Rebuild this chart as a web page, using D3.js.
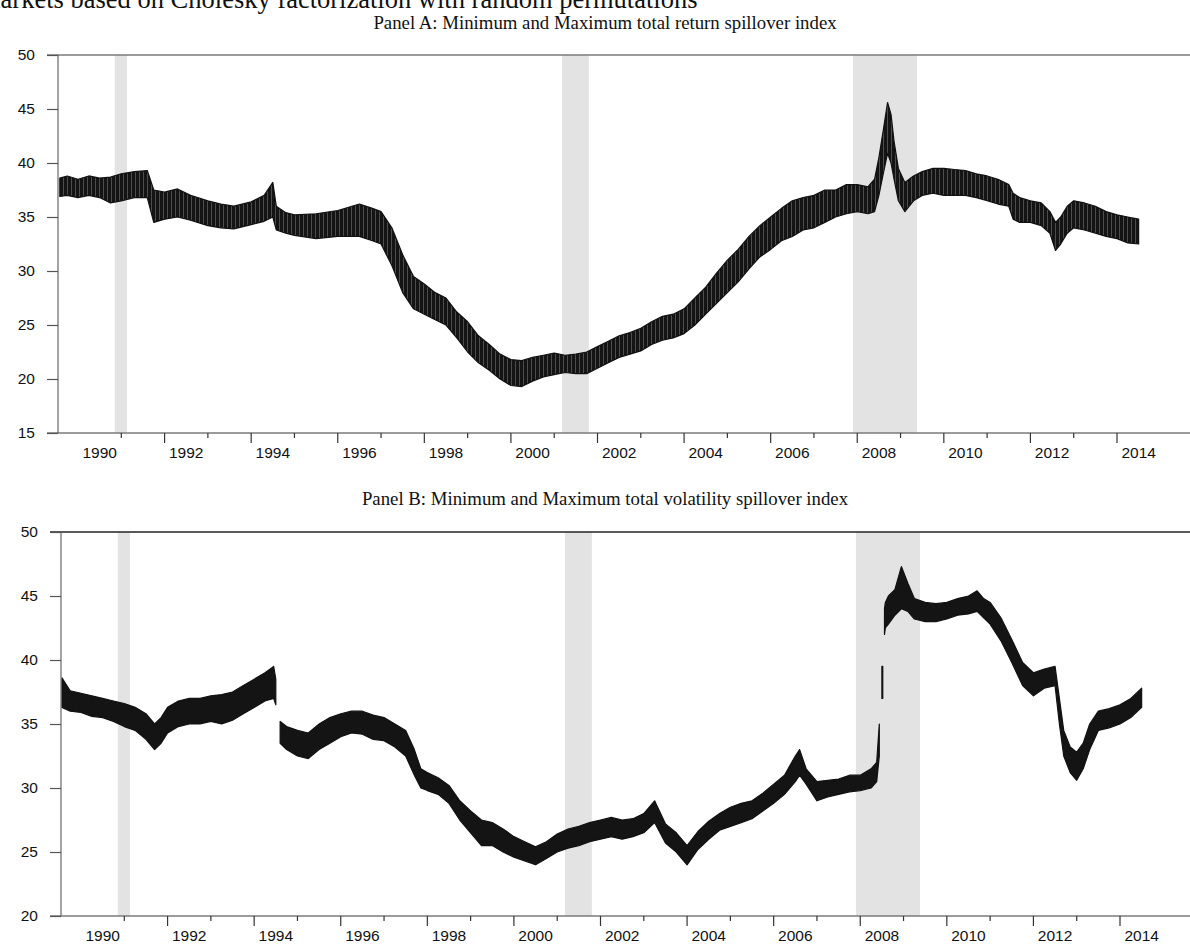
<!DOCTYPE html>
<html>
<head>
<meta charset="utf-8">
<script src="https://cdn.jsdelivr.net/npm/d3@7"></script>
<style>
  body { margin: 0; background: #fff; }
  svg { display: block; }
</style>
</head>
<body>
<svg id="chart"></svg>
<script>
// ---- data ----
const recessions = [[1990.85, 1991.13], [2001.18, 2001.8], [2007.9, 2009.38]];
const yearTicks = d3.range(1991, 2015);
const yearLabels = d3.range(1990, 2015, 2);

const ticksA = [15, 20, 25, 30, 35, 40, 45, 50];
const ticksB = [20, 25, 30, 35, 40, 45, 50];

// Panel A: return spillover (min / max)
const datesA = [1989.58, 1989.75, 1990.0, 1990.25, 1990.5, 1990.75, 1991.0, 1991.3, 1991.6, 1991.75,
  1992.0, 1992.3, 1992.6, 1993.0, 1993.3, 1993.6, 1994.0, 1994.3, 1994.5, 1994.58,
  1994.8, 1995.0, 1995.5, 1996.0, 1996.5, 1996.8, 1997.0, 1997.25, 1997.5, 1997.75,
  1998.0, 1998.25, 1998.5, 1998.75, 1999.0, 1999.25, 1999.5, 1999.75, 2000.0, 2000.25,
  2000.5, 2000.75, 2001.0, 2001.25, 2001.5, 2001.75, 2002.0, 2002.25, 2002.5, 2002.75,
  2003.0, 2003.25, 2003.5, 2003.75, 2004.0, 2004.25, 2004.5, 2004.75, 2005.0, 2005.25,
  2005.5, 2005.75, 2006.0, 2006.25, 2006.5, 2006.75, 2007.0, 2007.25, 2007.5, 2007.75,
  2008.0, 2008.25, 2008.4, 2008.5, 2008.6, 2008.7, 2008.78, 2008.85, 2008.95, 2009.1,
  2009.3, 2009.5, 2009.75, 2010.0, 2010.25, 2010.5, 2010.75, 2011.0, 2011.25, 2011.5,
  2011.6, 2011.75, 2012.0, 2012.25, 2012.45, 2012.58, 2012.7, 2012.85, 2013.0, 2013.25,
  2013.5, 2013.75, 2014.0, 2014.25, 2014.5];
const minA = [36.9, 37.0, 36.8, 37.0, 36.8, 36.3, 36.5, 36.8, 36.8, 34.5,
  34.8, 35.0, 34.7, 34.2, 34.0, 33.9, 34.3, 34.6, 35.0, 33.8,
  33.5, 33.3, 33.0, 33.2, 33.2, 32.8, 32.5, 30.5, 28.0, 26.5,
  26.0, 25.5, 25.0, 23.8, 22.5, 21.5, 20.8, 20.0, 19.4, 19.3,
  19.8, 20.2, 20.4, 20.6, 20.5, 20.5, 21.0, 21.5, 22.0, 22.3,
  22.6, 23.2, 23.6, 23.8, 24.2, 25.0, 26.0, 27.0, 28.0, 29.0,
  30.2, 31.3, 32.0, 32.8, 33.2, 33.8, 34.0, 34.5, 35.0, 35.3,
  35.5, 35.3, 35.5, 37.0, 39.0, 40.9, 40.0, 38.5, 36.5, 35.5,
  36.5, 37.0, 37.2, 37.0, 37.0, 37.0, 36.8, 36.5, 36.2, 36.0,
  34.8, 34.5, 34.5, 34.2, 33.5, 31.9, 32.5, 33.5, 34.0, 33.8,
  33.5, 33.2, 33.0, 32.6, 32.5];
const maxA = [38.6, 38.8, 38.5, 38.8, 38.6, 38.7, 39.0, 39.2, 39.3, 37.5,
  37.3, 37.6, 37.0, 36.5, 36.2, 36.0, 36.4, 37.0, 38.2, 36.0,
  35.4, 35.2, 35.3, 35.6, 36.2, 35.8, 35.5, 34.0, 31.5, 29.5,
  28.8, 28.0, 27.5, 26.2, 25.3, 24.0, 23.2, 22.3, 21.8, 21.7,
  22.0, 22.2, 22.4, 22.2, 22.3, 22.5, 23.0, 23.5, 24.0, 24.3,
  24.7, 25.3, 25.8, 26.0, 26.5, 27.5, 28.5, 29.8, 31.0, 32.0,
  33.2, 34.2, 35.0, 35.8, 36.5, 36.8, 37.0, 37.5, 37.5, 38.0,
  38.0, 37.8, 38.5, 40.5, 43.0, 45.6, 44.5, 42.0, 39.5, 38.2,
  38.8, 39.2, 39.5, 39.5, 39.4, 39.3, 39.0, 38.8, 38.5, 38.0,
  37.2, 36.8, 36.5, 36.3, 35.5, 34.5, 35.0, 36.0, 36.5, 36.3,
  36.0, 35.5, 35.2, 35.0, 34.8];

// Panel B: volatility spillover (min / max), null = break in the series
const datesB = [1989.56, 1989.75, 1990.0, 1990.25, 1990.5, 1990.75, 1991.0, 1991.25, 1991.5, 1991.7,
  1991.85, 1992.0, 1992.25, 1992.5, 1992.75, 1993.0, 1993.25, 1993.5, 1993.75, 1994.0,
  1994.25, 1994.45, 1994.5, 1994.55, 1994.6, 1994.75, 1995.0, 1995.25, 1995.5, 1995.75,
  1996.0, 1996.25, 1996.5, 1996.75, 1997.0, 1997.25, 1997.5, 1997.7, 1997.85, 1998.0,
  1998.25, 1998.5, 1998.75, 1999.0, 1999.25, 1999.5, 1999.75, 2000.0, 2000.25, 2000.5,
  2000.75, 2001.0, 2001.25, 2001.5, 2001.75, 2002.0, 2002.25, 2002.5, 2002.75, 2003.0,
  2003.25, 2003.5, 2003.75, 2004.0, 2004.25, 2004.5, 2004.75, 2005.0, 2005.25, 2005.5,
  2005.75, 2006.0, 2006.25, 2006.5, 2006.6, 2006.75, 2007.0, 2007.25, 2007.5, 2007.75,
  2008.0, 2008.25, 2008.38, 2008.44, 2008.46, 2008.5, 2008.52, 2008.54, 2008.56, 2008.58,
  2008.65, 2008.8, 2008.95, 2009.1,
  2009.25, 2009.5, 2009.75, 2010.0, 2010.25, 2010.5, 2010.7, 2010.85, 2011.0, 2011.25,
  2011.5, 2011.75, 2012.0, 2012.25, 2012.5, 2012.6, 2012.7, 2012.85, 2013.0, 2013.15,
  2013.3, 2013.5, 2013.75, 2014.0, 2014.25, 2014.5];
const minB = [36.3, 36.0, 35.9, 35.6, 35.5, 35.2, 34.8, 34.5, 33.8, 33.0,
  33.5, 34.3, 34.8, 35.0, 35.0, 35.2, 35.0, 35.3, 35.8, 36.3,
  36.8, 37.0, 36.5, null, 33.5, 33.0, 32.5, 32.3, 33.0, 33.5,
  34.0, 34.3, 34.2, 33.8, 33.7, 33.2, 32.5, 31.0, 30.0, 29.8,
  29.5, 28.8, 27.5, 26.5, 25.5, 25.5, 25.0, 24.6, 24.3, 24.0,
  24.5, 25.0, 25.3, 25.5, 25.8, 26.0, 26.2, 26.0, 26.2, 26.5,
  27.3, 25.7, 25.0, 24.0, 25.2, 26.0, 26.7, 27.0, 27.3, 27.6,
  28.2, 28.8, 29.5, 30.5, 31.0, 30.3, 29.0, 29.3, 29.5, 29.7,
  29.8, 30.0, 30.5, 32.5, null, 37.0, 37.0, null, 42.0, 42.5,
  42.8, 43.5, 44.0, 43.8,
  43.2, 43.0, 43.0, 43.2, 43.5, 43.6, 43.8, 43.3, 42.8, 41.5,
  39.8, 38.0, 37.2, 37.8, 38.0, 35.0, 32.5, 31.2, 30.6, 31.5,
  33.0, 34.5, 34.7, 35.0, 35.5, 36.3];
const maxB = [38.6, 37.6, 37.4, 37.2, 37.0, 36.8, 36.6, 36.3, 35.8, 35.0,
  35.5, 36.3, 36.8, 37.0, 37.0, 37.2, 37.3, 37.5, 38.0, 38.5,
  39.0, 39.5, 38.5, null, 35.2, 34.8, 34.5, 34.3, 35.0, 35.5,
  35.8, 36.0, 36.0, 35.7, 35.5, 35.0, 34.5, 33.0, 31.5, 31.2,
  30.8, 30.2, 29.0, 28.2, 27.5, 27.3, 26.8, 26.2, 25.8, 25.4,
  25.8, 26.4, 26.8, 27.0, 27.3, 27.5, 27.7, 27.5, 27.6, 28.0,
  29.0, 27.2, 26.5, 25.5, 26.6, 27.4, 28.0, 28.5, 28.8, 29.0,
  29.6, 30.3, 31.0, 32.5, 33.0, 31.5, 30.5, 30.6, 30.7, 31.0,
  31.0, 31.5, 32.0, 35.0, null, 39.5, 39.5, null, 44.0, 44.5,
  45.0, 45.5, 47.3, 46.0,
  44.8, 44.5, 44.4, 44.5, 44.8, 45.0, 45.4, 44.8, 44.5, 43.3,
  41.6, 39.8, 39.0, 39.3, 39.5, 37.0, 34.5, 33.2, 32.8, 33.5,
  35.0, 36.0, 36.2, 36.5, 37.0, 37.8];

const topTitle = "markets based on Cholesky factorization with random permutations";
const titleA = "Panel A: Minimum and Maximum total return spillover index";
const titleB = "Panel B: Minimum and Maximum total volatility spillover index";

// ---- drawing ----
const width = 1190, height = 944;
const svg = d3.select("#chart").attr("width", width).attr("height", height);

const defs = svg.append("defs");
const pat = defs.append("pattern")
    .attr("id", "stripes")
    .attr("patternUnits", "userSpaceOnUse")
    .attr("width", 4).attr("height", 10);
pat.append("rect").attr("width", 4).attr("height", 10).attr("fill", "#141414");
pat.append("rect").attr("x", 3).attr("width", 1).attr("height", 10).attr("fill", "#4d4d4d");

svg.append("text")
    .attr("x", -20).attr("y", 8)
    .attr("font-family", "Liberation Serif, Times New Roman, serif")
    .attr("font-size", 26.5)
    .attr("fill", "#111")
    .text(topTitle);

function drawPanel(p) {
    const g = svg.append("g");

    const x = d3.scaleLinear().domain([1990, 2014]).range(p.xRange);
    const y = d3.scaleLinear().domain(p.yDomain).range([p.bottom, p.top]);

    const rows = p.dates.map((d, i) => ({ t: d, lo: p.lo[i], hi: p.hi[i] }));

    // shaded periods
    g.selectAll(".shade")
        .data(recessions)
        .join("rect")
        .attr("class", "shade")
        .attr("x", d => x(d[0]))
        .attr("y", p.top)
        .attr("width", d => x(d[1]) - x(d[0]))
        .attr("height", p.bottom - p.top)
        .attr("fill", "#e3e3e3");

    // min-max band
    const area = d3.area()
        .defined(d => d.lo != null)
        .x(d => x(d.t))
        .y0(d => y(d.lo))
        .y1(d => y(d.hi));
    g.append("path")
        .datum(rows)
        .attr("d", area)
        .attr("fill", p.fill)
        .attr("stroke", "#111")
        .attr("stroke-width", 1.2)
        .attr("stroke-linejoin", "round");

    // frame lines
    g.append("line")
        .attr("x1", p.yAxisX - 11).attr("x2", width)
        .attr("y1", p.top).attr("y2", p.top)
        .attr("stroke", p.topColor).attr("stroke-width", 1.5);
    g.append("line")
        .attr("x1", p.yAxisX - 11).attr("x2", width)
        .attr("y1", p.bottom).attr("y2", p.bottom)
        .attr("stroke", "#7a7a7a").attr("stroke-width", 1.5);
    g.append("line")
        .attr("x1", p.yAxisX).attr("x2", p.yAxisX)
        .attr("y1", p.top).attr("y2", p.bottom)
        .attr("stroke", "#666").attr("stroke-width", 1.2);

    // y axis
    const yAxis = d3.axisLeft(y).tickValues(p.yTicks).tickSize(11).tickPadding(12)
        .tickFormat(d3.format("d"));
    const ya = g.append("g")
        .attr("transform", `translate(${p.yAxisX},0)`)
        .call(yAxis);
    ya.select(".domain").remove();
    ya.selectAll(".tick line").attr("stroke", "#555").attr("stroke-width", 1.2);
    ya.selectAll(".tick text")
        .attr("font-family", "Liberation Sans, Arial, sans-serif")
        .attr("font-size", 15.5)
        .attr("fill", "#111");

    // x axis: year ticks, long on even years
    g.selectAll(".xtick")
        .data(yearTicks)
        .join("line")
        .attr("class", "xtick")
        .attr("x1", d => x(d)).attr("x2", d => x(d))
        .attr("y1", p.bottom)
        .attr("y2", d => p.bottom + (d % 2 === 0 ? 10 : 5))
        .attr("stroke", "#333").attr("stroke-width", 1.2);

    g.selectAll(".xlab")
        .data(yearLabels)
        .join("text")
        .attr("class", "xlab")
        .attr("x", d => x(d + 0.5))
        .attr("y", p.bottom + 25)
        .attr("text-anchor", "middle")
        .attr("font-family", "Liberation Sans, Arial, sans-serif")
        .attr("font-size", 15.5)
        .attr("fill", "#111")
        .text(d => d);

    svg.append("text")
        .attr("x", 605).attr("y", p.titleY)
        .attr("text-anchor", "middle")
        .attr("font-family", "Liberation Serif, Times New Roman, serif")
        .attr("font-size", 18.8)
        .attr("fill", "#111")
        .text(p.title);
}

drawPanel({
    dates: datesA, lo: minA, hi: maxA,
    xRange: [78, 1117], yDomain: [15, 50], yTicks: ticksA,
    top: 55, bottom: 433, yAxisX: 58,
    fill: "url(#stripes)", topColor: "#7a7a7a",
    title: titleA, titleY: 29
});

drawPanel({
    dates: datesB, lo: minB, hi: maxB,
    xRange: [81, 1120], yDomain: [20, 50], yTicks: ticksB,
    top: 532, bottom: 916, yAxisX: 61,
    fill: "#141414", topColor: "#222",
    title: titleB, titleY: 505
});
</script>
</body>
</html>
